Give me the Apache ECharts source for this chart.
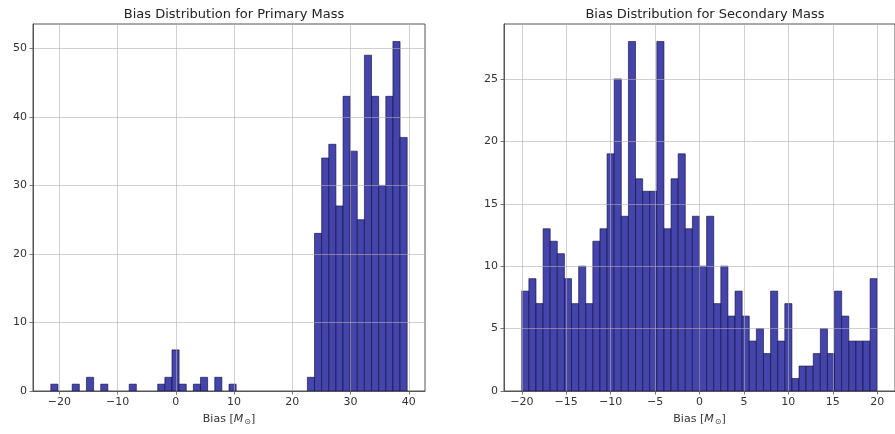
<!DOCTYPE html>
<html>
<head>
<meta charset="utf-8">
<script src="https://cdn.jsdelivr.net/npm/echarts@6/dist/echarts.min.js"></script>
<style>
html,body{margin:0;padding:0;background:#fff;overflow:hidden;}
#chart{width:895px;height:434px;}
</style>
</head>
<body>
<div id="chart"></div>
<script>
// ---- Data ----
const primaryTitle = 'Bias Distribution for Primary Mass';
const secondaryTitle = 'Bias Distribution for Secondary Mass';
const xAxisName = 'Bias [{i|M}{s|⊙}]';

const primaryBinStart = -21.47;
const primaryBinWidth = 1.224;
const primaryCounts = [1,0,0,1,0,2,0,1,0,0, 0,1,0,0,0,1,2,6,1,0, 1,2,0,2,0,1,0,0,0,0, 0,0,0,0,0,0,2,23,34,36, 27,43,35,25,49,43,30,43,51,37];

const secondaryBinStart = -20;
const secondaryBinWidth = 0.8;
const secondaryCounts = [8,9,7,13,12,11,9,7,10,7, 12,13,19,25,14,28,17,16,16,28, 13,17,19,13,14,10,14,7,10,6, 8,6,4,5,3,8,4,7,1,2, 2,3,5,3,8,6,4,4,4,9];

const primaryXTicks = [-20,-10,0,10,20,30,40];
const primaryYTicks = [0,10,20,30,40,50];
const secondaryXTicks = [-20,-15,-10,-5,0,5,10,15,20];
const secondaryYTicks = [0,5,10,15,20,25];

const primaryXRange = [-24.53, 42.79];
const primaryYRange = [0, 53.55];
const secondaryXRange = [-22, 22];
const secondaryYRange = [0, 29.4];

// ---- Build histogram items ----
function bins(start, width, counts){
  const out = [];
  counts.forEach((c,i)=>{ if(c>0) out.push([start+i*width, start+(i+1)*width, c]); });
  return out;
}

const barFill = '#4444aa';
const barEdge = 'rgba(10,10,60,0.75)';
function renderBar(params, api){
  const x0 = api.value(0), x1 = api.value(1), c = api.value(2);
  const p0 = api.coord([x0, c]);
  const p1 = api.coord([x1, 0]);
  return {
    type:'rect',
    shape:{x:p0[0], y:p0[1], width:p1[0]-p0[0], height:p1[1]-p0[1]},
    style:{fill:barFill, stroke:barEdge, lineWidth:0.8}
  };
}

function fmt(ticks){
  return function(v){
    const r = Math.round(v*1000)/1000;
    if(ticks.indexOf(r)<0) return '';
    return r<0 ? '\u2212'+Math.abs(r) : String(r);
  };
}

const font = 'DejaVu Sans';
const textColor = '#333';
const lineColor = '#555';
const gridColor = 'rgba(176,176,176,0.75)';

function xAxisCfg(gi, range, ticks, step){
  return {
    type:'value', gridIndex:gi, min:range[0], max:range[1],
    minInterval:step, maxInterval:step, z:3,
    name:xAxisName, nameLocation:'middle', nameGap:21,
    nameTextStyle:{fontFamily:font, fontSize:11, color:textColor,
      rich:{i:{fontFamily:font, fontSize:11, fontStyle:'italic', color:textColor},
            s:{fontFamily:font, fontSize:8, color:textColor, verticalAlign:'bottom', padding:[6,0,0,1]}}},
    axisLine:{show:true, onZero:false, lineStyle:{color:lineColor, width:1}},
    axisTick:{show:true, length:3.5, lineStyle:{color:lineColor, width:0.8}},
    axisLabel:{show:true, margin:6, fontFamily:font, fontSize:11, color:textColor,
      showMinLabel:false, showMaxLabel:false, formatter:fmt(ticks)},
    splitLine:{show:true, showMinLine:false, showMaxLine:false, lineStyle:{color:gridColor, width:0.8}}
  };
}
function yAxisCfg(gi, range, ticks, step){
  return {
    type:'value', gridIndex:gi, min:range[0], max:range[1],
    interval:step, z:3,
    axisLine:{show:true, onZero:false, lineStyle:{color:lineColor, width:1}},
    axisTick:{show:true, length:3.5, lineStyle:{color:lineColor, width:0.8}},
    axisLabel:{show:true, margin:6, fontFamily:font, fontSize:11, color:textColor,
      showMaxLabel:false, formatter:fmt(ticks)},
    splitLine:{show:true, showMaxLine:false, lineStyle:{color:gridColor, width:0.8}}
  };
}

const chart = echarts.init(document.getElementById('chart'), null, {renderer:'canvas'});
chart.setOption({
  backgroundColor:'#fff',
  animation:false,
  title:[
    {text:primaryTitle, left:229, top:3, textAlign:'center',
     textStyle:{fontFamily:font, fontSize:13, fontWeight:'normal', color:'#222'}},
    {text:secondaryTitle, left:700, top:3, textAlign:'center',
     textStyle:{fontFamily:font, fontSize:13, fontWeight:'normal', color:'#222'}}
  ],
  grid:[
    {left:33, top:24, width:392, height:367, show:true, borderColor:lineColor, borderWidth:1, backgroundColor:'transparent'},
    {left:504, top:24, width:393, height:367, show:true, borderColor:lineColor, borderWidth:1, backgroundColor:'transparent'}
  ],
  xAxis:[
    xAxisCfg(0, primaryXRange, primaryXTicks, 10),
    xAxisCfg(1, secondaryXRange, secondaryXTicks, 5)
  ],
  yAxis:[
    yAxisCfg(0, primaryYRange, primaryYTicks, 10),
    yAxisCfg(1, secondaryYRange, secondaryYTicks, 5)
  ],
  series:[
    {type:'custom', xAxisIndex:0, yAxisIndex:0, renderItem:renderBar, z:2,
     encode:{x:[0,1], y:2}, data:bins(primaryBinStart, primaryBinWidth, primaryCounts)},
    {type:'custom', xAxisIndex:1, yAxisIndex:1, renderItem:renderBar, z:2,
     encode:{x:[0,1], y:2}, data:bins(secondaryBinStart, secondaryBinWidth, secondaryCounts)}
  ]
});
</script>
</body>
</html>
